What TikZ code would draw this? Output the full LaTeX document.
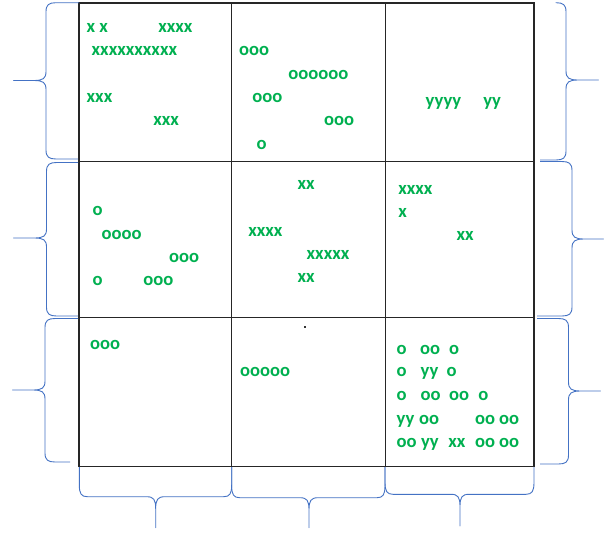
\documentclass[tikz,border=0pt]{standalone}
\usepackage{fontspec}
\setmainfont{Carlito}
\definecolor{txtgreen}{RGB}{0,176,80}
\definecolor{braceblue}{RGB}{68,114,196}
\tikzset{
  bracestyle/.style={draw=braceblue, line width=0.9pt, line join=round},
  gridline/.style={draw=black!85, line width=1.1pt},
  lbl/.style={anchor=base west, inner sep=0pt, outer sep=0pt, text=txtgreen, font=\fontsize{18.6}{20}\selectfont\bfseries}
}
% vertical brace: #1 v, #2 tip x, #3 top y, #4 mid y, #5 bottom y, #6 top end x, #7 bottom end x, #8 dir
\newcommand\myvbr[8]{%
  \draw[bracestyle] (#6,#3) -- ({#1-(#8)*10},#3) .. controls ({#1-(#8)*3},#3) and (#1,{#3+2}) .. (#1,{#3+9})
    -- (#1,{#4-9}) .. controls (#1,{#4-2}) and ({#1+(#8)*3},#4) .. ({#1+(#8)*12},#4) -- (#2,#4)
    -- ({#1+(#8)*12},#4) .. controls ({#1+(#8)*3},#4) and (#1,{#4+2}) .. (#1,{#4+9})
    -- (#1,{#5-9}) .. controls (#1,{#5-2}) and ({#1-(#8)*3},#5) .. ({#1-(#8)*10},#5) -- (#7,#5);}
% horizontal brace: #1 h, #2 tip y, #3 left x, #4 mid x, #5 right x, #6 left end y, #7 right end y
\newcommand\myhbr[7]{%
  \draw[bracestyle] (#3,#6) -- (#3,{#1-12}) .. controls (#3,{#1-3}) and ({#3+2},#1) .. ({#3+8},#1)
    -- ({#4-9},#1) .. controls ({#4-2},#1) and (#4,{#1+3}) .. (#4,{#1+12}) -- (#4,#2)
    -- (#4,{#1+12}) .. controls (#4,{#1+3}) and ({#4+2},#1) .. ({#4+9},#1)
    -- ({#5-8},#1) .. controls ({#5-2},#1) and (#5,{#1-3}) .. (#5,{#1-12}) -- (#5,#7);}
\begin{document}
\begin{tikzpicture}[x=1pt,y=-1pt]
\useasboundingbox (0,0) rectangle (608,533);
\fill[white] (0,0) rectangle (608,533);
% grid
\draw[gridline] (79,3) rectangle (534,466.7);
\draw[gridline] (231.7,3) -- (231.7,466.7);
\draw[gridline] (385.3,3) -- (385.3,466.7);
\draw[gridline] (79,161.7) -- (534,161.7);
\draw[gridline] (79,317.3) -- (534,317.3);
% dot
\fill[black!80] (304.3,326.3) rectangle (305.8,327.8);
% left braces
\myvbr{46}{13.5}{2.7}{80.5}{159}{79}{78}{-1}
\myvbr{46.5}{13.5}{162.5}{238}{316}{78}{78}{-1}
\myvbr{45}{12.5}{318.5}{390}{462}{78}{70}{-1}
% right braces
\myvbr{566}{598.5}{2.7}{80}{160}{557}{540}{1}
\myvbr{572}{603.5}{161.5}{239}{316}{540}{537}{1}
\myvbr{568.5}{600.5}{318.5}{391}{464}{537}{540}{1}
% bottom braces
\myhbr{496.7}{527.7}{79.3}{155.7}{231.7}{467}{467}
\myhbr{497.7}{527.7}{231.7}{309}{385}{467}{467}
\myhbr{494.3}{526}{385}{460}{534}{467}{467}
% cell 1,1
\node[lbl] (c11a) at (86.7,32.3) {x x};
\node[lbl] (c11b) at (158.3,32.3) {xxxx};
\node[lbl] (c11c) at (91.7,55.7) {xxxxxxxxxx};
\node[lbl] (c11d) at (86.7,102.3) {xxx};
\node[lbl] (c11e) at (153.3,125.7) {xxx};
% cell 1,2
\node[lbl] (c12a) at (239,55.7) {ooo};
\node[lbl] (c12b) at (288.3,79) {oooooo};
\node[lbl] (c12c) at (252.3,102.3) {ooo};
\node[lbl] (c12d) at (324,125.7) {ooo};
\node[lbl] (c12e) at (256.7,149) {o};
% cell 1,3
\node[lbl] (c13a) at (425.7,106.7) {yyyy};
\node[lbl] (c13b) at (483.3,106.7) {yy};
% cell 2,1
\node[lbl] (c21a) at (92.7,215.7) {o};
\node[lbl] (c21b) at (101.7,239) {oooo};
\node[lbl] (c21c) at (169,262.3) {ooo};
\node[lbl] (c21d) at (92.7,285.7) {o};
\node[lbl] (c21e) at (143.3,285.7) {ooo};
% cell 2,2
\node[lbl] (c22a) at (297.7,189) {xx};
\node[lbl] (c22b) at (248.3,236) {xxxx};
\node[lbl] (c22c) at (306.7,259.3) {xxxxx};
\node[lbl] (c22d) at (297.7,282.7) {xx};
% cell 2,3
\node[lbl] (c23a) at (398.3,194) {xxxx};
\node[lbl] (c23b) at (398.3,217.3) {x};
\node[lbl] (c23c) at (456.7,240.7) {xx};
% cell 3,1
\node[lbl] (c31a) at (90,349.3) {ooo};
% cell 3,2
\node[lbl] (c32a) at (240,376) {ooooo};
% cell 3,3
\node[lbl] (c33a) at (396.7,354) {o};
\node[lbl] (c33b) at (420,354) {oo};
\node[lbl] (c33c) at (449,354) {o};
\node[lbl] (c33d) at (396.7,376.7) {o};
\node[lbl] (c33e) at (420.7,376.7) {yy};
\node[lbl] (c33f) at (446.7,376.7) {o};
\node[lbl] (c33g) at (396.7,400.7) {o};
\node[lbl] (c33h) at (420.7,400.7) {oo};
\node[lbl] (c33i) at (449,400.7) {oo};
\node[lbl] (c33j) at (478.3,400.7) {o};
\node[lbl] (c33k) at (396.7,424) {yy};
\node[lbl] (c33l) at (419,424) {oo};
\node[lbl] (c33m) at (475,424) {oo oo};
\node[lbl] (c33n) at (396.7,447.3) {oo};
\node[lbl] (c33o) at (421,447.3) {yy};
\node[lbl] (c33p) at (448.3,447.3) {xx};
\node[lbl] (c33q) at (475,447.3) {oo oo};
\end{tikzpicture}
\end{document}
